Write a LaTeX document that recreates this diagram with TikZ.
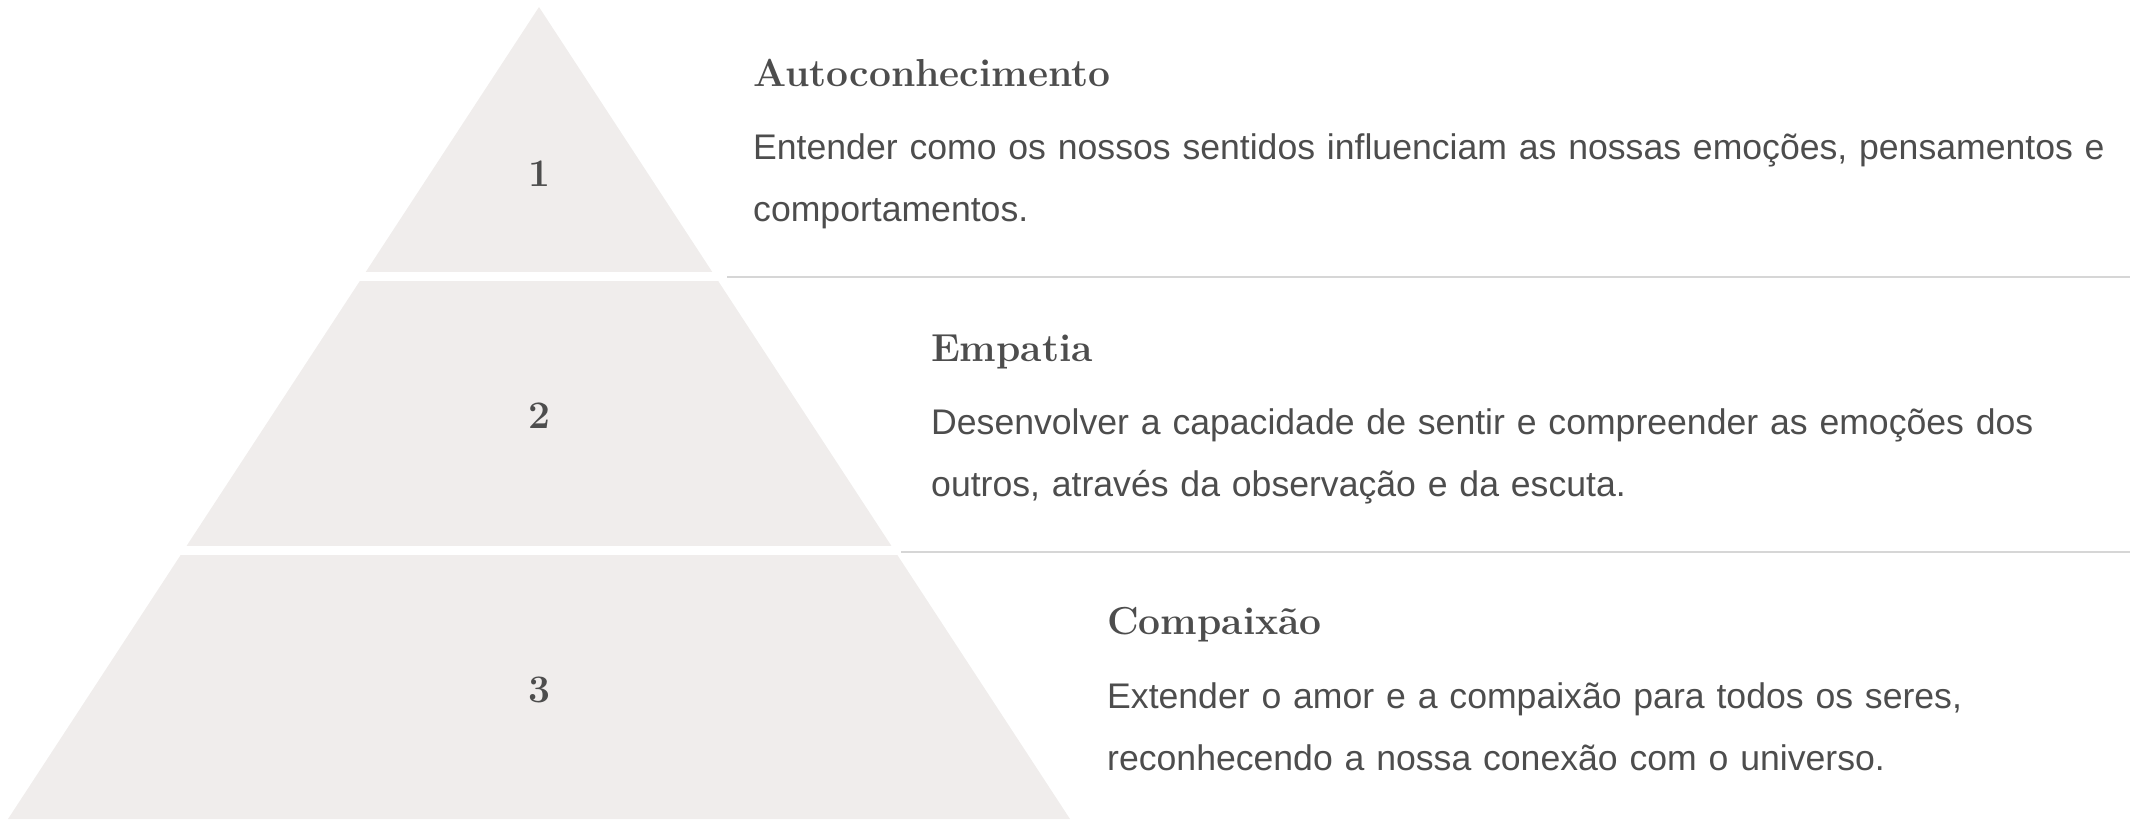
\documentclass[tikz,border=0pt]{standalone}
\usepackage{fontspec}
\setsansfont{Liberation Sans}
\usepackage{tikz}
\usetikzlibrary{positioning,calc}

\definecolor{pyrfill}{RGB}{240,237,236}
\definecolor{inkgray}{RGB}{77,77,77}
\definecolor{rulegray}{RGB}{214,214,214}

\tikzset{
  levelnum/.style={inner sep=0pt, text=inkgray, font=\rmfamily\bfseries\fontsize{39}{44}\selectfont},
  levelhead/.style={inner sep=0pt, anchor=base west, text=inkgray, font=\rmfamily\bfseries\fontsize{39}{44}\selectfont},
  leveldesc/.style={inner sep=0pt, anchor=base west, text=inkgray, align=left, text width=1375pt, font=\sffamily\fontsize{35.6}{62.5}\selectfont},
  sepline/.style={draw=rulegray, line width=2.2pt}
}

\begin{document}
\begin{tikzpicture}[x=1pt,y=-1pt]
        \useasboundingbox (0,0) rectangle (2130,819);
        % pyramid, cut into three levels
        \coordinate (apex) at (539,7);
        \coordinate (baseL) at (8,819);
        \coordinate (baseR) at (1070,819);
        \fill[pyrfill] (apex) -- (baseR) -- (baseL) -- cycle;
        \fill[white] (0,272) rectangle (1100,281);
        \fill[white] (0,546) rectangle (1100,555);
        \node[levelnum] (num1) at (539,174) {1};
        \node[levelnum] (num2) at (539,416) {2};
        \node[levelnum] (num3) at (539,690) {3};
        % separators
        \coordinate (sep1) at (727,277);
        \coordinate (sep2) at (901,552);
        \coordinate (edge) at (2130,0);
        \draw[sepline] (sep1) -- (sep1 -| edge);
        \draw[sepline] (sep2) -- (sep2 -| edge);
        % texts
        \node[levelhead] (head1) at (753,86) {Autoconhecimento};
        \node[leveldesc] (desc1) at (753,159) {Entender como os nossos sentidos influenciam as nossas emoções, pensamentos e\\comportamentos.};
        \node[levelhead] (head2) at (931,361) {Empatia};
        \node[leveldesc] (desc2) at (931,434) {Desenvolver a capacidade de sentir e compreender as emoções dos\\outros, através da observação e da escuta.};
        \node[levelhead] (head3) at (1107,634) {Compaixão};
        \node[leveldesc] (desc3) at (1107,708) {Extender o amor e a compaixão para todos os seres,\\reconhecendo a nossa conexão com o universo.};
      \end{tikzpicture}
\end{document}
